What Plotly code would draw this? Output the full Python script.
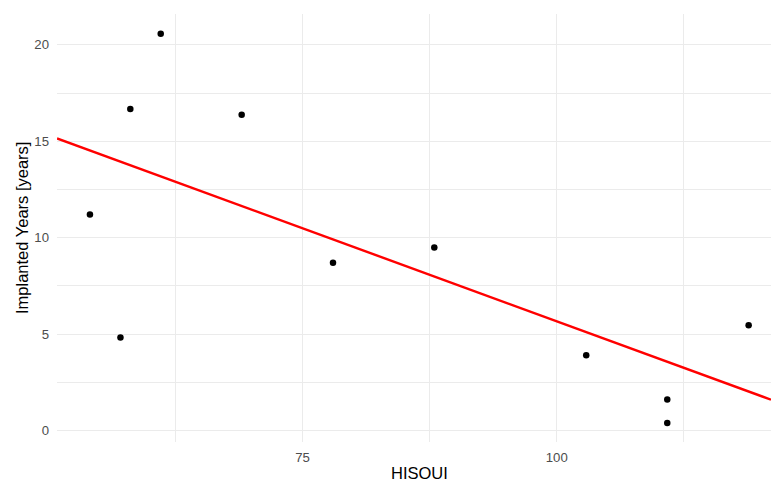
import numpy as np
import plotly.graph_objects as go

hisqui = [54.1, 57.1, 58.07, 61.06, 69.02, 78.0, 87.96, 102.9, 110.87, 110.87, 118.87]
implanted_years = [11.21, 4.83, 16.67, 20.58, 16.38, 8.70, 9.50, 3.91, 1.61, 0.39, 5.46]

x_range = [50.86, 121.07]
y_range = [-0.59, 21.6]

slope, intercept = np.polyfit(hisqui, implanted_years, 1)
line_x = np.array(x_range)
line_y = slope * line_x + intercept

font_family = "Liberation Sans, Arial, sans-serif"

fig = go.Figure()
fig.add_trace(go.Scatter(
    x=hisqui, y=implanted_years, mode="markers",
    marker=dict(color="black", size=6.5),
    showlegend=False, hoverinfo="skip",
))
fig.add_trace(go.Scatter(
    x=line_x, y=line_y, mode="lines",
    line=dict(color="#FF0000", width=2.4),
    showlegend=False, hoverinfo="skip",
))

grid_col = "#EBEBEB"
tick_font = dict(size=13.2, color="#4D4D4D", family=font_family)
title_font = dict(size=16.5, color="black", family=font_family)
fig.update_layout(
    width=771, height=479,
    margin=dict(l=57, r=0, t=14, b=37),
    paper_bgcolor="white", plot_bgcolor="white",
    font=dict(family=font_family, color="#4D4D4D", size=13.2),
    xaxis=dict(
        range=x_range, tickmode="array", tickvals=[75, 100], ticktext=["75", "100"],
        showgrid=True, gridcolor=grid_col, gridwidth=1.1,
        zeroline=False, showline=False, ticks="", ticklabelstandoff=6,
        minor=dict(tickmode="array", tickvals=[62.5, 87.5, 112.5], showgrid=True, gridcolor=grid_col, gridwidth=0.6),
        tickfont=tick_font,
    ),
    yaxis=dict(
        range=y_range, tickmode="array", tickvals=[0, 5, 10, 15, 20],
        showgrid=True, gridcolor=grid_col, gridwidth=1.1,
        zeroline=False, showline=False, ticks="", ticklabelstandoff=7,
        minor=dict(tickmode="array", tickvals=[2.5, 7.5, 12.5, 17.5], showgrid=True, gridcolor=grid_col, gridwidth=0.6),
        tickfont=tick_font,
    ),
    annotations=[
        dict(
            text="HISQUI", x=(419 - 57) / (771 - 57), xref="paper", y=0, yref="paper",
            yshift=-30.5, showarrow=False, xanchor="center", yanchor="middle",
            font=title_font,
        ),
        dict(
            text="Implanted Years [years]", x=(22 - 57) / (771 - 57), xref="paper",
            y=0.5, yref="paper", textangle=-90, showarrow=False,
            xanchor="center", yanchor="middle", font=title_font,
        ),
    ],
)

fig.write_html(
    "out.html",
    config={"displayModeBar": False},
    post_script="document.body.style.margin='0';document.body.style.padding='0';document.body.style.overflow='hidden';",
)
